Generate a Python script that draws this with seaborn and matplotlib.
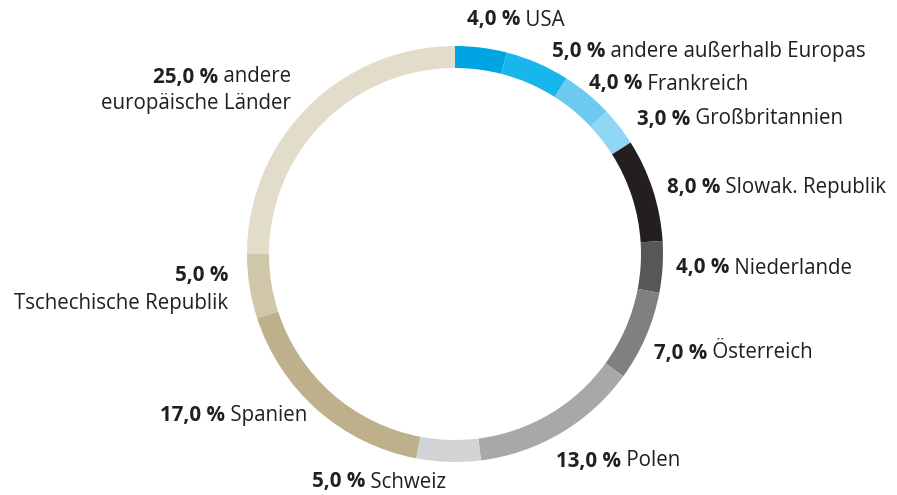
import matplotlib.pyplot as plt
import seaborn as sns

# ## Data

shares = [4.0, 5.0, 4.0, 3.0, 8.0, 4.0, 7.0, 13.0, 5.0, 17.0, 5.0, 25.0]
value_labels = [f"{v:.1f} %".replace(".", ",") for v in shares]
names = [
    "USA",
    "andere außerhalb Europas",
    "Frankreich",
    "Großbritannien",
    "Slowak. Republik",
    "Niederlande",
    "Österreich",
    "Polen",
    "Schweiz",
    "Spanien",
    "Tschechische Republik",
    "andere europäische Länder",
]
colors = [
    "#00a4e2", "#19b6ec", "#6ec9f1", "#90d6f5", "#231f20", "#575757",
    "#808082", "#a7a8aa", "#d2d3d4", "#bdb08a", "#d0c7a8", "#e2ddcb",
]

# ## Plot

sns.set_theme(style="white")
plt.rcParams["font.family"] = ["Open Sans", "DejaVu Sans"]
text_color = "#231f20"

W, H = 897, 495
fig = plt.figure(figsize=(W / 100, H / 100), dpi=100)
ax = fig.add_axes([0, 0, 1, 1])

ax.pie(
    shares,
    colors=colors,
    center=(455, H - 254),
    radius=208,
    startangle=90,
    counterclock=False,
    wedgeprops=dict(width=22, linewidth=0),
    frame=True,
)
ax.set_xlim(0, W)
ax.set_ylim(0, H)
ax.set_aspect("equal")
ax.axis("off")

fs = 14.8


def label(x, y, bold, rest, align="left"):
    # x, y in pixels from the top left; bold value followed by regular name
    y = H - y
    if align == "left":
        t = ax.text(x, y, bold, fontsize=fs, fontweight="bold",
                    color=text_color, ha="left", va="center")
        if rest:
            ax.annotate(" " + rest, xy=(1, 0), xycoords=t, fontsize=fs,
                        color=text_color, ha="left", va="bottom")
    else:
        if rest:
            t = ax.text(x, y, " " + rest, fontsize=fs, color=text_color,
                        ha="right", va="center")
            ax.annotate(bold, xy=(0, 0), xycoords=t, fontsize=fs,
                        fontweight="bold", color=text_color,
                        ha="right", va="bottom")
        else:
            ax.text(x, y, bold, fontsize=fs, fontweight="bold",
                    color=text_color, ha="right", va="center")


label(467, 20, value_labels[0], names[0])
label(552, 52, value_labels[1], names[1])
label(589, 84, value_labels[2], names[2])
label(637, 119, value_labels[3], names[3])
label(667, 188, value_labels[4], names[4])
label(676, 268, value_labels[5], names[5])
label(654, 353, value_labels[6], names[6])
label(556, 461, value_labels[7], names[7])
label(312, 482, value_labels[8], names[8])
label(307, 415, value_labels[9], names[9], align="right")
label(228, 275, value_labels[10], "", align="right")
ax.text(228, H - 303, names[10], fontsize=fs, color=text_color,
        ha="right", va="center")
label(291, 77, value_labels[11], "andere", align="right")
ax.text(291, H - 104, "europäische Länder", fontsize=fs, color=text_color,
        ha="right", va="center")

fig.savefig("out.png", dpi=100)
